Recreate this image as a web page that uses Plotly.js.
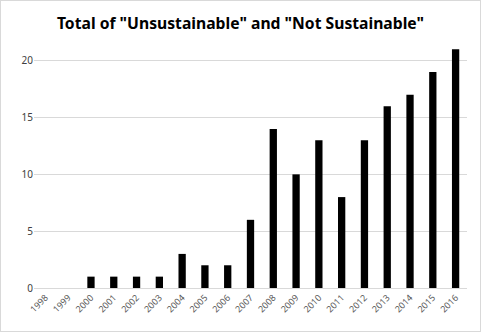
<!DOCTYPE html>
<html>
<head>
<meta charset="utf-8">
<script src="https://cdn.plot.ly/plotly-3.0.1.min.js"></script>
<style>
html,body{margin:0;padding:0;background:#fff;}
#chart{width:481px;height:332px;box-sizing:border-box;border:1px solid #d9d9d9;}
</style>
</head>
<body>
<div id="chart"></div>
<script>
const years = ["1998","1999","2000","2001","2002","2003","2004","2005","2006","2007","2008","2009","2010","2011","2012","2013","2014","2015","2016"];
const totals = [0,0,1,1,1,1,3,2,2,6,14,10,13,8,13,16,17,19,21];
const yTicks = [0,5,10,15,20];

const data = [{
  type: 'bar',
  x: years,
  y: totals,
  marker: {color: '#000000'},
  hoverinfo: 'x+y'
}];

const layout = {
  width: 479, height: 330,
  margin: {l: 33, r: 13, t: 37, b: 43},
  paper_bgcolor: '#fff', plot_bgcolor: '#fff',
  bargap: 0.68,
  showlegend: false,
  title: {
    text: 'Total of "Unsustainable" and "Not Sustainable"',
    font: {family: 'Noto Sans, Open Sans, sans-serif', size: 15.7, color: '#000', weight: 'bold'},
    x: 0.5, xanchor: 'center', y: 0.932, yanchor: 'middle'
  },
  xaxis: {
    type: 'category',
    tickangle: -45,
    tickfont: {family: 'Noto Sans, sans-serif', size: 9, color: '#595959'},
    showgrid: false,
    showline: true, linecolor: '#d9d9d9', linewidth: 1,
    ticks: '', fixedrange: true
  },
  yaxis: {
    range: [0, 22],
    tickvals: yTicks,
    ticktext: yTicks.map(String),
    tickfont: {family: 'Noto Sans, sans-serif', size: 10, color: '#404040'},
    showgrid: true, gridcolor: '#d9d9d9', gridwidth: 1,
    zeroline: false, showline: false, ticks: '', ticklen: 0,
    fixedrange: true
  }
};

Plotly.newPlot('chart', data, layout, {displayModeBar: false, staticPlot: true});
</script>
</body>
</html>
